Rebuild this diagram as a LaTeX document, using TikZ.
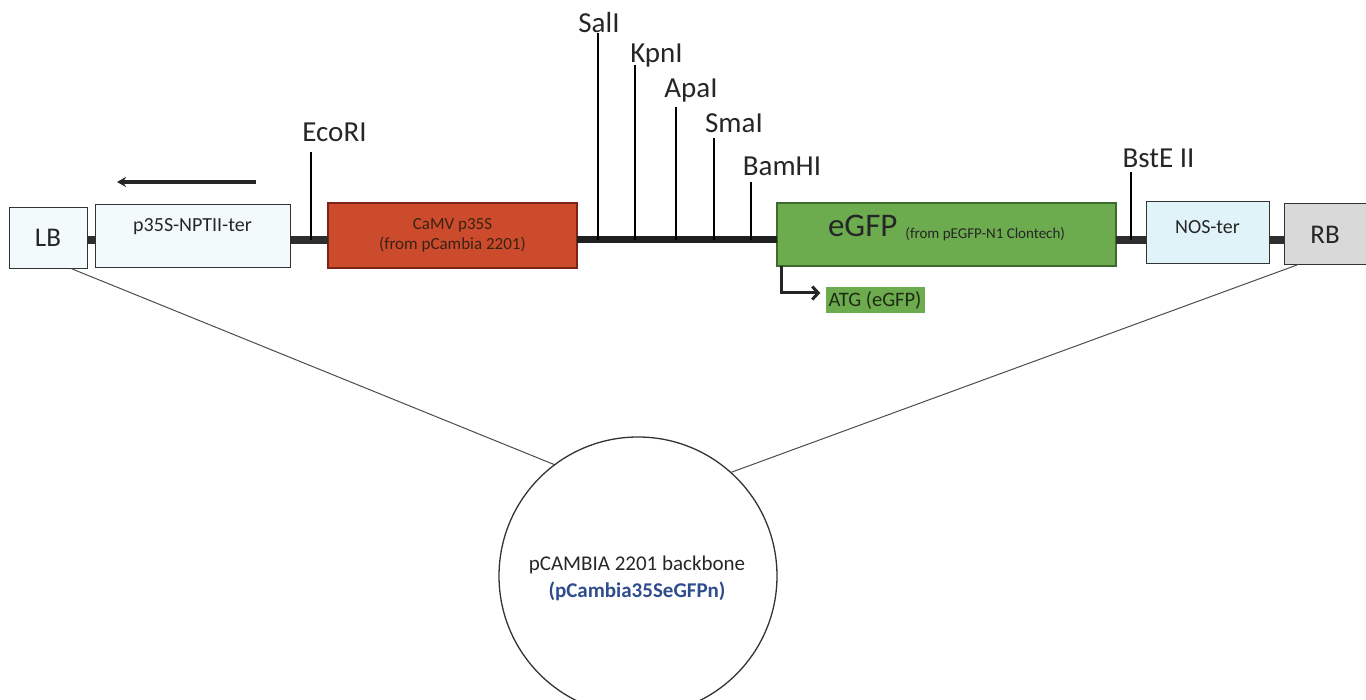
\documentclass[tikz,border=0pt]{standalone}
\usepackage{fontspec}
\setmainfont{Carlito}
\usetikzlibrary{arrows.meta}
\definecolor{txt}{HTML}{262626}
\definecolor{camvfill}{HTML}{CC4B2C}
\definecolor{camvline}{HTML}{7E2416}
\definecolor{camvtxt}{HTML}{3A2212}
\definecolor{gfpfill}{HTML}{6DAB4F}
\definecolor{gfpline}{HTML}{3F6A2E}
\definecolor{lbfill}{HTML}{F3FAFC}
\definecolor{nosfill}{HTML}{E0F3F8}
\definecolor{rbfill}{HTML}{D9D9D9}
\definecolor{boxline}{HTML}{333333}
\definecolor{blueT}{HTML}{2F4D8C}
\definecolor{linkgray}{HTML}{2E2E2E}
\definecolor{atgtxt}{HTML}{1E2B14}
\begin{document}
\begin{tikzpicture}[x=1pt,y=-1pt,
  box/.style={draw=boxline, line width=1pt, inner sep=0pt, outer sep=0pt, text=txt},
  site/.style={font=\fontsize{29}{32}\selectfont, text=txt, inner sep=0pt},
  boxtxt/.style={font=\fontsize{20}{24}\selectfont, text=txt, inner sep=0pt},
  cut/.style={draw=black, line width=1.2pt},
  link/.style={draw=linkgray, line width=8pt},
  backbone/.style={draw=black!88, line width=7pt},
  thinline/.style={draw=black!70, line width=1pt}]
\useasboundingbox (0,0) rectangle (1366,700);

% axis level for the DNA line
\coordinate (ax) at (0,240);

% boxes
\node[box, fill=lbfill, minimum width=78pt, minimum height=61pt,
      font=\fontsize{27}{30}\selectfont] (LB) at (48,238) {LB};
\node[box, fill=lbfill, minimum width=195pt, minimum height=63pt] (p35S) at (192.5,236.5) {};
\node[boxtxt] (p35Stxt) at (192.5,227) {p35S-NPTII-ter};
\node[box, fill=camvfill, draw=camvline, line width=1.5pt, minimum width=249pt, minimum height=65pt,
      text=camvtxt, align=center, font=\fontsize{17}{20.5}\selectfont] (camv) at (452.5,235.5)
      {CaMV p35S\\(from pCambia 2201)};
\node[box, fill=gfpfill, draw=gfpline, line width=1.5pt, minimum width=339pt, minimum height=63pt] (egfp) at (946.5,234.5) {};
\node[inner sep=0pt, anchor=base, text=txt] (egfptxt) at (946.5,237)
      {{\fontsize{33}{36}\selectfont eGFP}\hspace{8pt}\raisebox{-2pt}{\fontsize{15}{16}\selectfont (from pEGFP-N1 Clontech)}};
\node[box, fill=nosfill, minimum width=123pt, minimum height=62pt] (nos) at (1207.5,233) {};
\node[boxtxt] (nostxt) at (1207.5,227) {NOS-ter};
\node[box, fill=rbfill, minimum width=88pt, minimum height=61pt,
      font=\fontsize{27}{30}\selectfont] (RB) at (1328,234.5) {\hspace*{-6pt}RB};

% links and backbone
\draw[link] (LB.east |- ax) -- (p35S.west |- ax);
\draw[link] (p35S.east |- ax) -- (camv.west |- ax);
\draw[backbone] (camv.east |- ax) -- (egfp.west |- ax);
\draw[link] (egfp.east |- ax) -- (nos.west |- ax);
\draw[link] (nos.east |- ax) -- (RB.west |- ax);

% restriction sites
\coordinate (sEco) at (311,240);
\coordinate (sSal) at (598,240);
\coordinate (sKpn) at (635,240);
\coordinate (sApa) at (676,240);
\coordinate (sSma) at (714,240);
\coordinate (sBam) at (751,240);
\coordinate (sBst) at (1131,240);

\node[site, anchor=base] (lEco) at (334.5,142) {EcoRI};
\node[site, anchor=base] (lSal) at (599,33) {SalI};
\node[site, anchor=base] (lKpn) at (656.5,63) {KpnI};
\node[site, anchor=base] (lApa) at (691,98) {ApaI};
\node[site, anchor=base] (lSma) at (734,133) {SmaI};
\node[site, anchor=base] (lBam) at (782,176) {BamHI};
\node[site, anchor=base] (lBst) at (1158.5,168) {BstE II};

\draw[cut] ([yshift=-10pt]lEco.base -| sEco) -- (sEco);
\draw[cut] (lSal.base -| sSal) -- (sSal);
\draw[cut] ([yshift=-2pt]lKpn.base -| sKpn) -- (sKpn);
\draw[cut] ([yshift=-9pt]lApa.base -| sApa) -- (sApa);
\draw[cut] ([yshift=-5pt]lSma.base -| sSma) -- (sSma);
\draw[cut] ([yshift=-6pt]lBam.base -| sBam) -- (sBam);
\draw[cut] ([yshift=-4pt]lBst.base -| sBst) -- (sBst);

% orientation arrow above p35S-NPTII-ter
\coordinate (arrS) at (256,182);
\coordinate (arrE) at (117,182);
\draw[draw=black!85, line width=3.5pt, -{Stealth[length=9pt,width=10pt]}] (arrS) -- (arrE);

% ATG
\node[fill=gfpfill, inner sep=0pt, minimum width=99pt, minimum height=26pt,
      text=atgtxt, font=\fontsize{20.5}{23}\selectfont] (atg) at (875,300) {ATG (eGFP)};
\draw[draw=black!85, line width=3pt, -{Straight Barb[length=6pt,width=13pt,line width=3pt]}]
  ([xshift=4pt]egfp.south west) |- ([xshift=-5pt,yshift=7pt]atg.west);

% backbone circle
\node[circle, draw=black!80, line width=1.3pt, minimum size=278pt, inner sep=0pt] (bb) at (638,576) {};
\node[align=center, inner sep=0pt, text=txt, font=\fontsize{21}{27}\selectfont] (bbtxt) at (637,578)
  {pCAMBIA 2201 backbone\\\textcolor{blueT}{\bfseries (pCambia35SeGFPn)}};

\draw[thinline] ([xshift=-16pt]LB.south east) -- (bb.127.5);
\draw[thinline] ([xshift=13pt]RB.south west) -- (bb.48);
\end{tikzpicture}
\end{document}
